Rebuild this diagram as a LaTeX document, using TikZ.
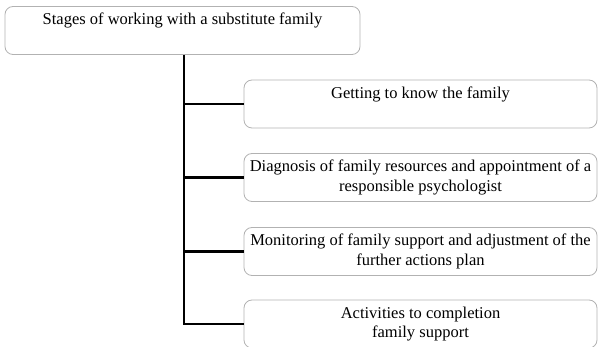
\documentclass[tikz,border=0pt]{standalone}
\usepackage{fontspec}
\setmainfont{Liberation Serif}
\usetikzlibrary{positioning}
\newcommand{\StageText}[3]{\parbox[t][#1][t]{#2}{\vspace*{2.5pt}\centering\strut #3}}

\begin{document}
\begin{tikzpicture}[x=1pt,y=-1pt]
		\tikzstyle{StageBox}=[draw=gray!60,line width=0.8pt,rounded corners=8pt,inner sep=2pt,
		                      font=\fontsize{16.5}{19.5}\selectfont]
		\tikzstyle{Trunk}=[line width=2.8pt]
		\useasboundingbox (0,0) rectangle (598,347);
		% heading
		\node[StageBox,minimum width=355pt,minimum height=48pt] (top) at (182.5,30.5)
			{\StageText{44pt}{351pt}{Stages of working with a substitute family}};
		% stages
		\node[StageBox,minimum width=353pt,minimum height=48pt] (s1) at (420.5,104)
			{\StageText{44pt}{349pt}{Getting to know the family}};
		\node[StageBox,minimum width=353pt,minimum height=48pt] (s2) at (420.5,177.5)
			{\StageText{44pt}{349pt}{Diagnosis of family resources and appointment of a\\ responsible psychologist}};
		\node[StageBox,minimum width=353pt,minimum height=48pt] (s3) at (420.5,251.5)
			{\StageText{44pt}{349pt}{Monitoring of family support and adjustment of the\\ further actions plan}};
		\node[StageBox,minimum width=353pt,minimum height=48pt] (s4) at (420.5,324)
			{\StageText{44pt}{349pt}{Activities to completion\\ family support}};
		\coordinate (trunk) at ([xshift=1.5pt]top.south);
		\draw[Trunk] (trunk) |- (s4.west);
		\draw[Trunk] (trunk |- s1.west) -- (s1.west);
		\draw[Trunk] (trunk |- s2.west) -- (s2.west);
		\draw[Trunk] (trunk |- s3.west) -- (s3.west);
	\end{tikzpicture}
\end{document}
